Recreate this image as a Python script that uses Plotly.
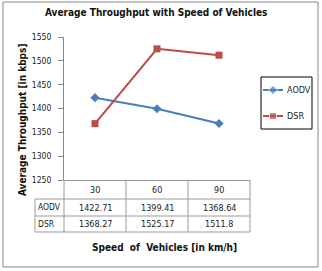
import plotly.graph_objects as go

speeds = ["30", "60", "90"]
aodv = [1422.71, 1399.41, 1368.64]
dsr = [1368.27, 1525.17, 1511.8]
y_ticks = [1250, 1300, 1350, 1400, 1450, 1500, 1550]

W, H = 322, 271
L, R, T, B = 64, 4, 37, 91
pw, ph = W - L - R, H - T - B

def px(x):
    return (x - L) / pw

def py(y):
    return (H - B - y) / ph

FONT = "DejaVu Sans Condensed, DejaVu Sans"
blue = "#4A7EBB"
red = "#BE4B48"
series = [("AODV", aodv, blue, "diamond", 90), ("DSR", dsr, red, "square", 116)]

fig = go.Figure()
for name, vals, col, sym, _ in series:
    fig.add_trace(go.Scatter(x=list(range(len(speeds))), y=vals, name=name, mode="lines+markers",
                             line=dict(color=col, width=2), marker=dict(symbol=sym, size=7, color=col),
                             showlegend=False, xaxis="x", yaxis="y"))
# manual legend keys (in legend-box pixel space)
for name, vals, col, sym, ly in series:
    fig.add_trace(go.Scatter(x=[263, 273, 283], y=[ly, ly, ly], mode="lines+markers",
                             line=dict(color=col, width=2), marker=dict(symbol=sym, size=[0, 7, 0], color=col),
                             showlegend=False, xaxis="x2", yaxis="y2", hoverinfo="skip"))

shapes = []
grid = "#9a9a9a"
shapes.append(dict(type="rect", xref="paper", yref="paper", x0=px(3), x1=px(318), y0=py(267), y1=py(2),
                   line=dict(color="#888888", width=1)))
shapes.append(dict(type="rect", xref="paper", yref="paper", x0=px(261), x1=px(312), y0=py(129), y1=py(77),
                   line=dict(color="black", width=1)))
rows = [181, 199, 216, 232]
for yy, x0 in [(rows[1], 35), (rows[2], 35), (rows[3], 35)]:
    shapes.append(dict(type="line", xref="paper", yref="paper", x0=px(x0), x1=px(250), y0=py(yy), y1=py(yy),
                       line=dict(color=grid, width=1)))
shapes.append(dict(type="line", xref="paper", yref="paper", x0=px(64), x1=px(250), y0=py(180.5), y1=py(180.5),
                   line=dict(color=grid, width=1)))
for xx, y0 in [(35, rows[1]), (126, 180), (188, 180), (250, 180)]:
    shapes.append(dict(type="line", xref="paper", yref="paper", x0=px(xx), x1=px(xx), y0=py(rows[3]), y1=py(y0),
                       line=dict(color=grid, width=1)))
shapes.append(dict(type="line", xref="paper", yref="paper", x0=0, x1=0, y0=py(rows[3]), y1=py(180),
                   line=dict(color=grid, width=1)))

annotations = []
tf = dict(family=FONT, size=9, color="#222")
for i, s in enumerate(speeds):
    for txt, yy in [(s, 190), (f"{aodv[i]:g}", 207.5), (f"{dsr[i]:g}", 224)]:
        annotations.append(dict(x=i, xref="x", y=py(yy), yref="paper", text=txt, showarrow=False,
                                xanchor="center", yanchor="middle", font=tf))
for name, yy in [("AODV", 207), ("DSR", 223.5)]:
    annotations.append(dict(x=px(35.5), xref="paper", y=py(yy), yref="paper", text=name, showarrow=False,
                            xanchor="left", yanchor="middle", font=dict(family=FONT, size=8.5, color="#222")))
for name, _, _, _, ly in series:
    annotations.append(dict(x=px(285), xref="paper", y=py(ly), yref="paper", text=name, showarrow=False,
                            xanchor="left", yanchor="middle", font=dict(family=FONT, size=9, color="#222")))
tt = dict(family=FONT, size=10, color="#111")
annotations.append(dict(x=px(156), xref="paper", y=py(13), yref="paper", xanchor="center", yanchor="middle",
                        text="<b>Average Throughput with Speed of Vehicles</b>", showarrow=False, font=tt))
annotations.append(dict(x=px(164), xref="paper", y=py(248), yref="paper", xanchor="center", yanchor="middle",
                        text="<b>Speed  of  Vehicles [in km/h]</b>", showarrow=False, font=tt))
annotations.append(dict(x=px(22), xref="paper", y=py(120), yref="paper", xanchor="center", yanchor="middle",
                        text="<b>Average Throughput [in kbps]</b>", showarrow=False, textangle=-90, font=tt))

fig.update_layout(
    width=W, height=H, margin=dict(l=L, r=R, t=T, b=B, autoexpand=False),
    paper_bgcolor="white", plot_bgcolor="rgba(0,0,0,0)",
    showlegend=False,
    xaxis=dict(domain=[0, px(250)], range=[-0.5, 2.5], showticklabels=False, showgrid=False, zeroline=False,
               ticks="", showline=False, fixedrange=True),
    yaxis=dict(range=[1250, 1550], tickvals=y_ticks, showgrid=False, zeroline=False, ticks="outside",
               ticklen=5, tickcolor="#888", showline=True, linecolor="#888", linewidth=1,
               ticklabelstandoff=5, tickfont=dict(family=FONT, size=8.5, color="#222")),
    xaxis2=dict(domain=[px(261), px(312)], range=[261, 312], visible=False, anchor="y2", fixedrange=True),
    yaxis2=dict(domain=[py(129), py(77)], range=[129, 77], visible=False, anchor="x2", fixedrange=True),
    shapes=shapes, annotations=annotations,
)
fig.write_html("out.html")
